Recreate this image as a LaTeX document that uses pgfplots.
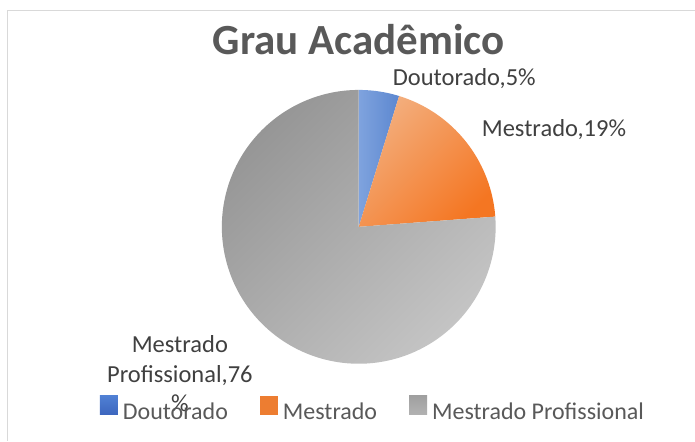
\documentclass[border=0pt]{standalone}
\usepackage{pgfplots}
\pgfplotsset{compat=1.18}
\usepackage{fontspec}
\setmainfont{Carlito}
\definecolor{titlegray}{HTML}{595959}
\definecolor{labelgray}{HTML}{404040}
\definecolor{framegray}{HTML}{D9D9D9}
\definecolor{xlorange}{HTML}{ED7D31}
\definecolor{blueL}{RGB}{127,163,222}
\definecolor{blueD}{RGB}{92,135,208}
\definecolor{orangeL}{RGB}{243,174,125}
\definecolor{orangeD}{RGB}{244,118,34}
\definecolor{grayD}{RGB}{150,150,150}
\definecolor{grayL}{RGB}{196,196,196}
\definecolor{legblueT}{RGB}{80,128,212}
\definecolor{legblueB}{RGB}{60,102,190}
\definecolor{leggrayT}{RGB}{160,160,160}
\definecolor{leggrayB}{RGB}{178,178,178}
% data: share of each degree (percent)
\def\vDout{4.76}
\def\vMest{19.05}
\def\vProf{76.19}
\pgfmathsetmacro{\aA}{90}
\pgfmathsetmacro{\aB}{\aA-3.6*\vDout}
\pgfmathsetmacro{\aC}{\aB-3.6*\vMest}
\pgfmathsetmacro{\aD}{\aC-3.6*\vProf}
\def\cx{359}\def\cy{227}\def\rr{137}
\begin{document}
\begin{tikzpicture}
\begin{axis}[
  scale only axis, width=695pt, height=441pt,
  xmin=0, xmax=695, ymin=0, ymax=441, y dir=reverse,
  hide axis, clip=false,
  legend columns=3,
  legend cell align=left,
  legend image code/.code={\fill[#1, draw=none] (0pt,-3pt) rectangle (18pt,16pt);},
  legend style={draw=none, fill=none, inner sep=0pt, outer sep=0pt,
    at={(axis cs:100,408.5)}, anchor=west,
    font=\fontsize{24}{29}\selectfont, text=titlegray,
    nodes={inner sep=0pt},
    /tikz/every odd column/.append style={column sep=5pt},
    /tikz/every even column/.append style={column sep=32pt}},
]
\fill[white] (axis cs:0,0) rectangle (axis cs:695,441);
\draw[framegray, line width=1pt] (axis cs:8,441) -- (axis cs:8,11) -- (axis cs:695,11);
% slices
\addplot[draw=none, forget plot, left color=blueL, right color=blueD,
  domain=\aB:\aA, samples=30, variable=\t]
  ({\cx+\rr*cos(\t)}, {\cy-\rr*sin(\t)}) -- (axis cs:\cx,\cy) -- cycle;
\addplot[draw=none, forget plot, top color=orangeL, bottom color=orangeD, shading angle=45,
  domain=\aC:\aB, samples=60, variable=\t]
  ({\cx+\rr*cos(\t)}, {\cy-\rr*sin(\t)}) -- (axis cs:\cx,\cy) -- cycle;
\addplot[draw=none, forget plot, top color=grayD, bottom color=grayL, shading angle=45,
  domain=\aD:\aC, samples=200, variable=\t]
  ({\cx+\rr*cos(\t)}, {\cy-\rr*sin(\t)}) -- (axis cs:\cx,\cy) -- cycle;
% legend
\addlegendimage{top color=legblueT, bottom color=legblueB}
\addlegendimage{fill=xlorange}
\addlegendimage{top color=leggrayT, bottom color=leggrayB}
\legend{Doutorado, Mestrado, Mestrado Profissional}
% title and labels
\node[anchor=base, text=titlegray, font=\fontsize{43}{50}\selectfont\bfseries] at (axis cs:359,55) {Grau Acadêmico};
\node[anchor=base west, text=labelgray, font=\fontsize{24.5}{29}\selectfont, inner sep=0pt] at (axis cs:393,86) {Doutorado,5\%};
\node[anchor=base west, text=labelgray, font=\fontsize{24.5}{29}\selectfont, inner sep=0pt] at (axis cs:482,137) {Mestrado,19\%};
\node[anchor=base, text=labelgray, font=\fontsize{24.5}{29}\selectfont, inner sep=0pt] at (axis cs:180,353) {Mestrado};
\node[anchor=base, text=labelgray, font=\fontsize{24.5}{29}\selectfont, inner sep=0pt] at (axis cs:180,383) {Profissional,76};
\node[anchor=base, text=labelgray, font=\fontsize{24.5}{29}\selectfont, inner sep=0pt] at (axis cs:180,412) {\%};
\end{axis}
\end{tikzpicture}
\end{document}
